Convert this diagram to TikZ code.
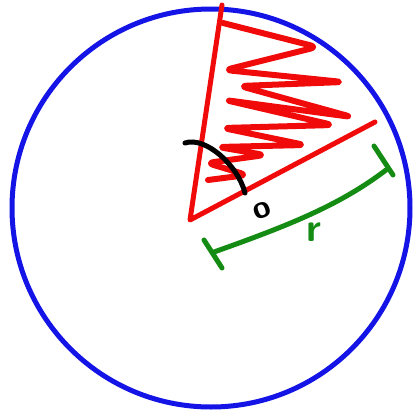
\documentclass[tikz,border=0pt]{standalone}
\usepackage{tikz}
\usetikzlibrary{calc}

\begin{document}
\begin{tikzpicture}[x=1pt, y=-1pt,
                    pen/.style={line width=5pt, line cap=round, line join=round},
                    rim/.style={pen, draw={rgb,255:red,20;green,20;blue,230}},
                    wedge/.style={pen, draw={rgb,255:red,240;green,10;blue,10}},
                    angle/.style={pen, draw=black},
                    dim/.style={pen, draw={rgb,255:red,20;green,140;blue,20}},
                    sign/.style={font=\sffamily\bfseries\fontsize{32}{32}\selectfont, inner sep=0pt}]
        \useasboundingbox (0,0) rectangle (414,416);
        \coordinate (centre) at (211,208);
        \draw[rim] (centre) circle (199);
        % the sector
        \coordinate (apex) at (190,220);
        \coordinate (top) at (222,5);
        \coordinate (tip) at (375,122);
        \draw[wedge] (top) -- (apex) -- (tip);
        \draw[wedge, line width=6pt, rounded corners=7pt] (223,23) -- (317,47) -- (225,70) -- (343,82) -- (240,86)
            -- (352,117) -- (225,100) -- (333,125) -- (223,128) -- (305,145) -- (218,147)
            -- (265,155) -- (207,163) -- (247,175) -- (208,180);
        % the angle
        \coordinate (arcstart) at (185,143);
        \coordinate (arcend) at (245,193);
        \draw[angle] (arcstart) .. controls (205,136) and (238,165) .. (arcend);
        \node[sign, rotate=20] (theta) at (262,211) {o};
        % the radius
        \coordinate (left) at (214,252);
        \coordinate (right) at (386,170);
        \draw[dim] (left) .. controls (290,225) and (340,205) .. (right);
        \draw[dim] (204,240) -- (222,268);
        \draw[dim] (374,146) -- (393,175);
        \node[sign, text={rgb,255:red,20;green,140;blue,20}, font=\sffamily\bfseries\fontsize{40}{40}\selectfont] (radius) at (314,232) {r};
    \end{tikzpicture}
\end{document}
